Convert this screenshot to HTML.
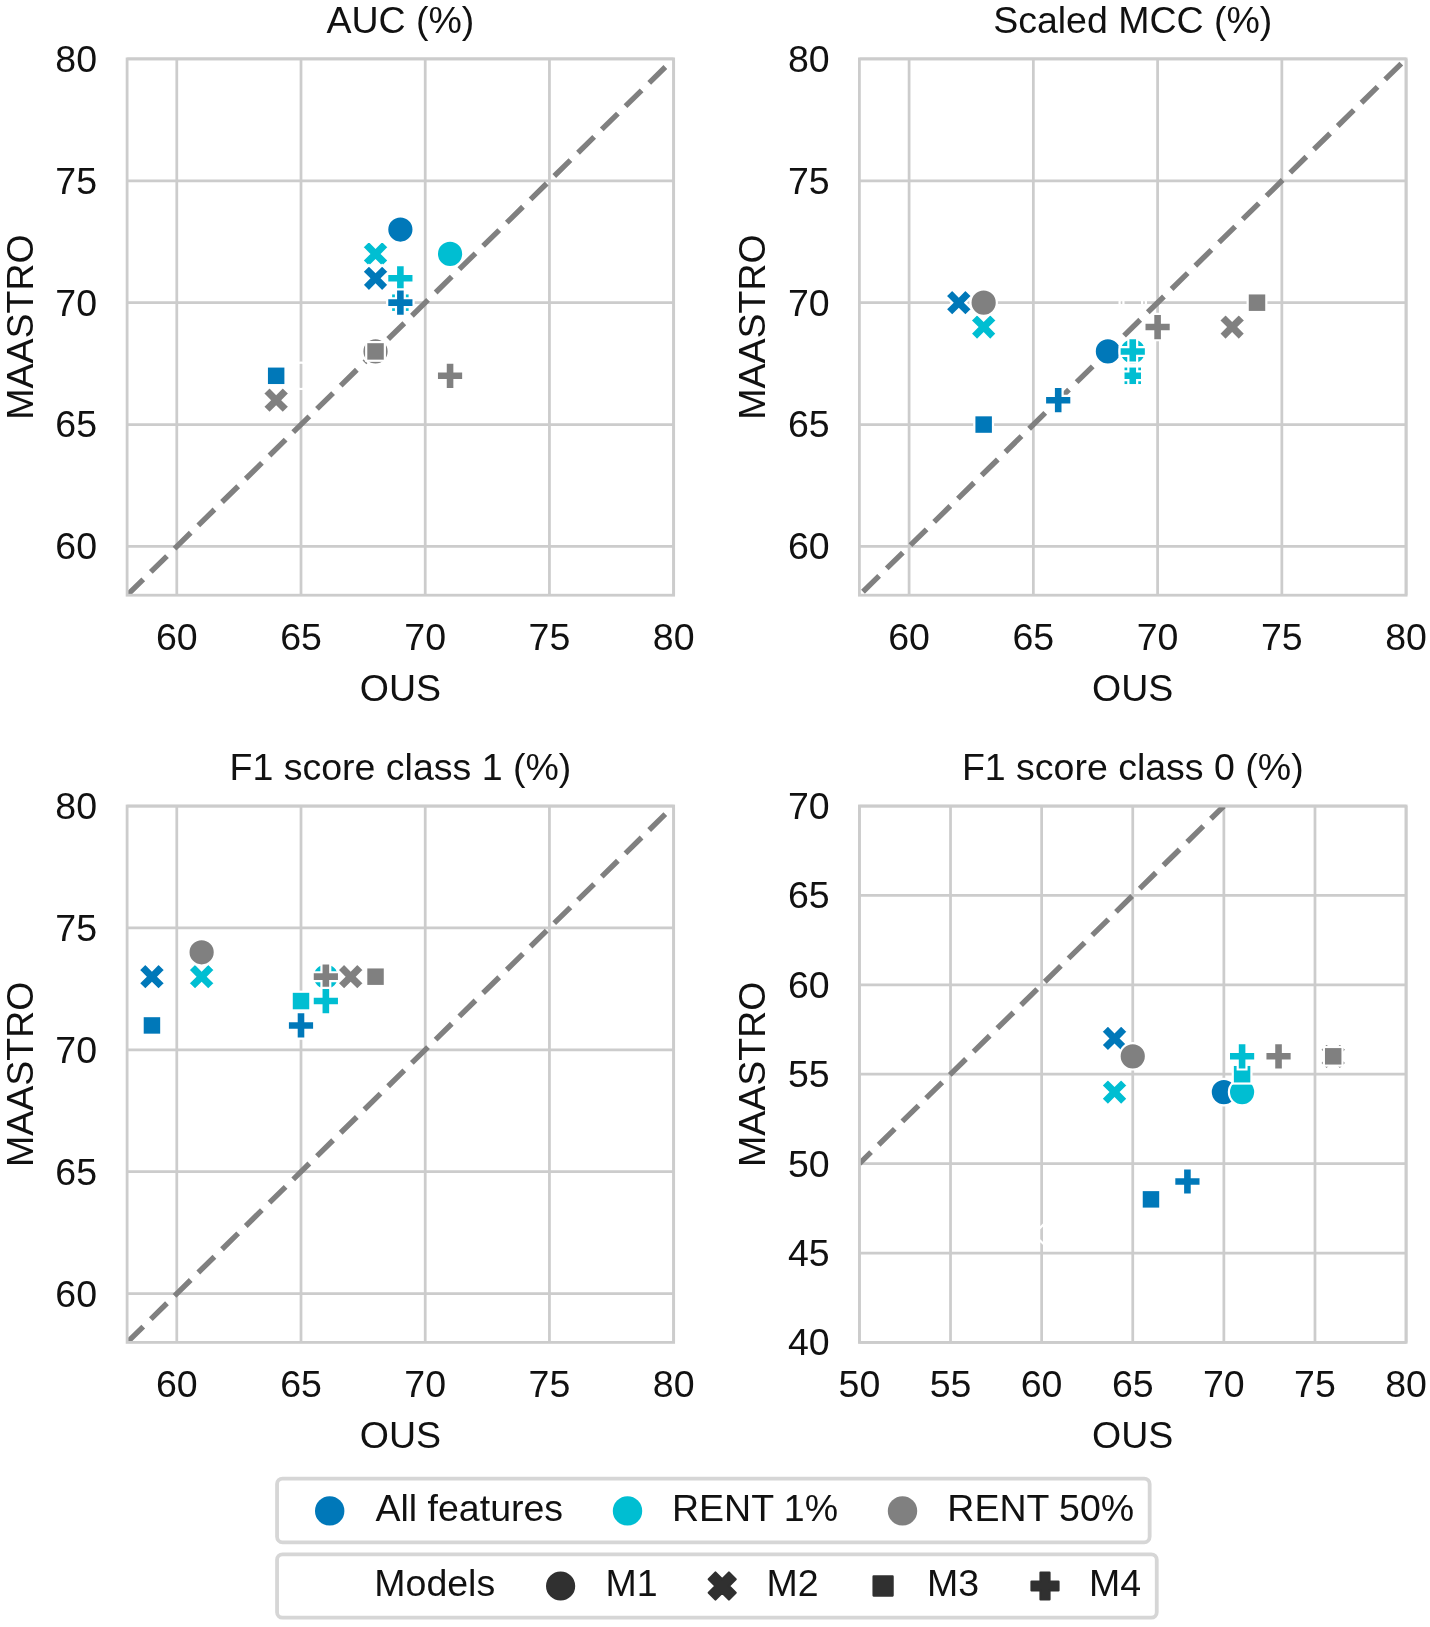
<!DOCTYPE html>
<html><head><meta charset="utf-8"><title>Chart</title><style>
html,body{margin:0;padding:0;background:#fff;overflow:hidden;}
svg{display:block;will-change:transform;}
text{font-family:"Liberation Sans",sans-serif;font-size:37.50px;fill:#111111;}
</style></head><body>
<svg width="1430" height="1627" viewBox="0 0 1430 1627">
<rect width="1430" height="1627" fill="#fff"/>
<clipPath id="c722"><rect x="127.10" y="58.90" width="546.55" height="536.30"/></clipPath>
<path d="M176.79,595.20 V58.90 M301.00,595.20 V58.90 M425.22,595.20 V58.90 M549.43,595.20 V58.90 M673.65,595.20 V58.90 M127.10,546.45 H673.65 M127.10,424.56 H673.65 M127.10,302.67 H673.65 M127.10,180.79 H673.65 M127.10,58.90 H673.65" stroke="#cccccc" stroke-width="2.75" fill="none"/>
<g clip-path="url(#c722)">
<line x1="127.10" y1="595.20" x2="673.65" y2="58.90" stroke="#808080" stroke-width="5.4" stroke-dasharray="22.6 10.65" stroke-dashoffset="0.00"/>
<circle cx="450.06" cy="253.92" r="13.20" fill="#00bed2" stroke="#fff" stroke-width="2.20" stroke-linejoin="miter"/>
<path d="M368.93,240.72 L375.53,247.32 L382.13,240.72 L388.73,247.32 L382.13,253.92 L388.73,260.52 L382.13,267.12 L375.53,260.52 L368.93,267.12 L362.33,260.52 L368.93,253.92 L362.33,247.32 Z" fill="#00bed2" stroke="#fff" stroke-width="2.20" stroke-linejoin="miter"/>
<path d="M395.98,265.10 L404.77,265.10 L404.77,273.90 L413.57,273.90 L413.57,282.70 L404.77,282.70 L404.77,291.50 L395.98,291.50 L395.98,282.70 L387.18,282.70 L387.18,273.90 L395.98,273.90 Z" fill="#00bed2" stroke="#fff" stroke-width="2.20" stroke-linejoin="miter"/>
<rect x="391.04" y="293.34" width="18.67" height="18.67" fill="#00bed2" stroke="#fff" stroke-width="2.20" stroke-linejoin="miter"/>
<circle cx="400.38" cy="229.54" r="13.20" fill="#0078b9" stroke="#fff" stroke-width="2.20" stroke-linejoin="miter"/>
<path d="M368.93,265.10 L375.53,271.70 L382.13,265.10 L388.73,271.70 L382.13,278.30 L388.73,284.90 L382.13,291.50 L375.53,284.90 L368.93,291.50 L362.33,284.90 L368.93,278.30 L362.33,271.70 Z" fill="#0078b9" stroke="#fff" stroke-width="2.20" stroke-linejoin="miter"/>
<rect x="266.83" y="366.47" width="18.67" height="18.67" fill="#0078b9" stroke="#fff" stroke-width="2.20" stroke-linejoin="miter"/>
<path d="M395.98,289.47 L404.77,289.47 L404.77,298.27 L413.57,298.27 L413.57,307.07 L404.77,307.07 L404.77,315.87 L395.98,315.87 L395.98,307.07 L387.18,307.07 L387.18,298.27 L395.98,298.27 Z" fill="#0078b9" stroke="#fff" stroke-width="2.20" stroke-linejoin="miter"/>
<circle cx="375.53" cy="351.43" r="13.20" fill="#808080" stroke="#fff" stroke-width="2.20" stroke-linejoin="miter"/>
<rect x="366.20" y="342.09" width="18.67" height="18.67" fill="#808080" stroke="#fff" stroke-width="2.20" stroke-linejoin="miter"/>
<path d="M269.56,386.98 L276.16,393.58 L282.76,386.98 L289.36,393.58 L282.76,400.18 L289.36,406.78 L282.76,413.38 L276.16,406.78 L269.56,413.38 L262.96,406.78 L269.56,400.18 L262.96,393.58 Z" fill="#808080" stroke="#fff" stroke-width="2.20" stroke-linejoin="miter"/>
<path d="M445.66,362.60 L454.46,362.60 L454.46,371.40 L463.26,371.40 L463.26,380.20 L454.46,380.20 L454.46,389.00 L445.66,389.00 L445.66,380.20 L436.86,380.20 L436.86,371.40 L445.66,371.40 Z" fill="#808080" stroke="#fff" stroke-width="2.20" stroke-linejoin="miter"/>
<circle cx="301.00" cy="375.80" r="13.20" fill="none" stroke="#fff" stroke-width="2.20" stroke-linejoin="miter"/>
</g>
<rect x="127.10" y="58.90" width="546.55" height="536.30" fill="none" stroke="#cccccc" stroke-width="2.80"/>
<text x="176.79" y="650.20" text-anchor="middle">60</text>
<text x="301.00" y="650.20" text-anchor="middle">65</text>
<text x="425.22" y="650.20" text-anchor="middle">70</text>
<text x="549.43" y="650.20" text-anchor="middle">75</text>
<text x="673.65" y="650.20" text-anchor="middle">80</text>
<text x="97.00" y="559.35" text-anchor="end">60</text>
<text x="97.00" y="437.46" text-anchor="end">65</text>
<text x="97.00" y="315.57" text-anchor="end">70</text>
<text x="97.00" y="193.69" text-anchor="end">75</text>
<text x="97.00" y="71.80" text-anchor="end">80</text>
<text x="400.38" y="701.20" text-anchor="middle">OUS</text>
<text x="400.38" y="33.10" text-anchor="middle">AUC (%)</text>
<text transform="translate(32.70,327.05) rotate(-90)" text-anchor="middle">MAASTRO</text>
<clipPath id="c1454"><rect x="859.40" y="58.90" width="546.70" height="536.30"/></clipPath>
<path d="M909.10,595.20 V58.90 M1033.35,595.20 V58.90 M1157.60,595.20 V58.90 M1281.85,595.20 V58.90 M1406.10,595.20 V58.90 M859.40,546.45 H1406.10 M859.40,424.56 H1406.10 M859.40,302.67 H1406.10 M859.40,180.79 H1406.10 M859.40,58.90 H1406.10" stroke="#cccccc" stroke-width="2.75" fill="none"/>
<g clip-path="url(#c1454)">
<line x1="859.40" y1="595.20" x2="1406.10" y2="58.90" stroke="#808080" stroke-width="5.4" stroke-dasharray="22.6 10.65" stroke-dashoffset="-5.00"/>
<circle cx="1107.90" cy="351.43" r="13.20" fill="#0078b9" stroke="#fff" stroke-width="2.20" stroke-linejoin="miter"/>
<path d="M952.20,289.47 L958.80,296.07 L965.40,289.47 L972.00,296.07 L965.40,302.67 L972.00,309.27 L965.40,315.87 L958.80,309.27 L952.20,315.87 L945.60,309.27 L952.20,302.67 L945.60,296.07 Z" fill="#0078b9" stroke="#fff" stroke-width="2.20" stroke-linejoin="miter"/>
<rect x="974.32" y="415.23" width="18.67" height="18.67" fill="#0078b9" stroke="#fff" stroke-width="2.20" stroke-linejoin="miter"/>
<path d="M1053.80,386.98 L1062.60,386.98 L1062.60,395.78 L1071.40,395.78 L1071.40,404.58 L1062.60,404.58 L1062.60,413.38 L1053.80,413.38 L1053.80,404.58 L1045.00,404.58 L1045.00,395.78 L1053.80,395.78 Z" fill="#0078b9" stroke="#fff" stroke-width="2.20" stroke-linejoin="miter"/>
<circle cx="1132.75" cy="351.43" r="13.20" fill="#00bed2" stroke="#fff" stroke-width="2.20" stroke-linejoin="miter"/>
<path d="M1128.35,338.23 L1137.15,338.23 L1137.15,347.03 L1145.95,347.03 L1145.95,355.83 L1137.15,355.83 L1137.15,364.63 L1128.35,364.63 L1128.35,355.83 L1119.55,355.83 L1119.55,347.03 L1128.35,347.03 Z" fill="#00bed2" stroke="#fff" stroke-width="2.20" stroke-linejoin="miter"/>
<path d="M977.05,313.85 L983.65,320.45 L990.25,313.85 L996.85,320.45 L990.25,327.05 L996.85,333.65 L990.25,340.25 L983.65,333.65 L977.05,340.25 L970.45,333.65 L977.05,327.05 L970.45,320.45 Z" fill="#00bed2" stroke="#fff" stroke-width="2.20" stroke-linejoin="miter"/>
<rect x="1123.42" y="366.47" width="18.67" height="18.67" fill="#00bed2" stroke="#fff" stroke-width="2.20" stroke-linejoin="miter"/>
<path d="M1128.35,362.60 L1137.15,362.60 L1137.15,371.40 L1145.95,371.40 L1145.95,380.20 L1137.15,380.20 L1137.15,389.00 L1128.35,389.00 L1128.35,380.20 L1119.55,380.20 L1119.55,371.40 L1128.35,371.40 Z" fill="none" stroke="#fff" stroke-width="2.20" stroke-linejoin="miter"/>
<circle cx="1132.75" cy="302.67" r="13.20" fill="none" stroke="#fff" stroke-width="2.20" stroke-linejoin="miter"/>
<rect x="1123.42" y="293.34" width="18.67" height="18.67" fill="none" stroke="#fff" stroke-width="2.20" stroke-linejoin="miter"/>
<circle cx="983.65" cy="302.67" r="13.20" fill="#808080" stroke="#fff" stroke-width="2.20" stroke-linejoin="miter"/>
<path d="M1225.55,313.85 L1232.15,320.45 L1238.75,313.85 L1245.35,320.45 L1238.75,327.05 L1245.35,333.65 L1238.75,340.25 L1232.15,333.65 L1225.55,340.25 L1218.95,333.65 L1225.55,327.05 L1218.95,320.45 Z" fill="#808080" stroke="#fff" stroke-width="2.20" stroke-linejoin="miter"/>
<rect x="1247.67" y="293.34" width="18.67" height="18.67" fill="#808080" stroke="#fff" stroke-width="2.20" stroke-linejoin="miter"/>
<path d="M1153.20,313.85 L1162.00,313.85 L1162.00,322.65 L1170.80,322.65 L1170.80,331.45 L1162.00,331.45 L1162.00,340.25 L1153.20,340.25 L1153.20,331.45 L1144.40,331.45 L1144.40,322.65 L1153.20,322.65 Z" fill="#808080" stroke="#fff" stroke-width="2.20" stroke-linejoin="miter"/>
</g>
<rect x="859.40" y="58.90" width="546.70" height="536.30" fill="none" stroke="#cccccc" stroke-width="2.80"/>
<text x="909.10" y="650.20" text-anchor="middle">60</text>
<text x="1033.35" y="650.20" text-anchor="middle">65</text>
<text x="1157.60" y="650.20" text-anchor="middle">70</text>
<text x="1281.85" y="650.20" text-anchor="middle">75</text>
<text x="1406.10" y="650.20" text-anchor="middle">80</text>
<text x="829.60" y="559.35" text-anchor="end">60</text>
<text x="829.60" y="437.46" text-anchor="end">65</text>
<text x="829.60" y="315.57" text-anchor="end">70</text>
<text x="829.60" y="193.69" text-anchor="end">75</text>
<text x="829.60" y="71.80" text-anchor="end">80</text>
<text x="1132.75" y="701.20" text-anchor="middle">OUS</text>
<text x="1132.75" y="33.10" text-anchor="middle">Scaled MCC (%)</text>
<text transform="translate(765.30,327.05) rotate(-90)" text-anchor="middle">MAASTRO</text>
<clipPath id="c1469"><rect x="127.10" y="806.00" width="546.55" height="536.40"/></clipPath>
<path d="M176.79,1342.40 V806.00 M301.00,1342.40 V806.00 M425.22,1342.40 V806.00 M549.43,1342.40 V806.00 M673.65,1342.40 V806.00 M127.10,1293.64 H673.65 M127.10,1171.73 H673.65 M127.10,1049.82 H673.65 M127.10,927.91 H673.65 M127.10,806.00 H673.65" stroke="#cccccc" stroke-width="2.75" fill="none"/>
<g clip-path="url(#c1469)">
<line x1="127.10" y1="1342.40" x2="673.65" y2="806.00" stroke="#808080" stroke-width="5.4" stroke-dasharray="22.6 10.65" stroke-dashoffset="0.00"/>
<path d="M145.34,963.47 L151.94,970.07 L158.54,963.47 L165.14,970.07 L158.54,976.67 L165.14,983.27 L158.54,989.87 L151.94,983.27 L145.34,989.87 L138.74,983.27 L145.34,976.67 L138.74,970.07 Z" fill="#0078b9" stroke="#fff" stroke-width="2.20" stroke-linejoin="miter"/>
<rect x="142.61" y="1016.10" width="18.67" height="18.67" fill="#0078b9" stroke="#fff" stroke-width="2.20" stroke-linejoin="miter"/>
<path d="M296.60,1012.24 L305.40,1012.24 L305.40,1021.04 L314.20,1021.04 L314.20,1029.84 L305.40,1029.84 L305.40,1038.64 L296.60,1038.64 L296.60,1029.84 L287.80,1029.84 L287.80,1021.04 L296.60,1021.04 Z" fill="#0078b9" stroke="#fff" stroke-width="2.20" stroke-linejoin="miter"/>
<path d="M195.03,963.47 L201.63,970.07 L208.23,963.47 L214.83,970.07 L208.23,976.67 L214.83,983.27 L208.23,989.87 L201.63,983.27 L195.03,989.87 L188.43,983.27 L195.03,976.67 L188.43,970.07 Z" fill="#00bed2" stroke="#fff" stroke-width="2.20" stroke-linejoin="miter"/>
<rect x="291.67" y="991.72" width="18.67" height="18.67" fill="#00bed2" stroke="#fff" stroke-width="2.20" stroke-linejoin="miter"/>
<circle cx="325.85" cy="976.67" r="13.20" fill="#00bed2" stroke="#fff" stroke-width="2.20" stroke-linejoin="miter"/>
<circle cx="201.63" cy="952.29" r="13.20" fill="#808080" stroke="#fff" stroke-width="2.20" stroke-linejoin="miter"/>
<path d="M321.45,963.47 L330.25,963.47 L330.25,972.27 L339.05,972.27 L339.05,981.07 L330.25,981.07 L330.25,989.87 L321.45,989.87 L321.45,981.07 L312.65,981.07 L312.65,972.27 L321.45,972.27 Z" fill="#808080" stroke="#fff" stroke-width="2.20" stroke-linejoin="miter"/>
<path d="M344.09,963.47 L350.69,970.07 L357.29,963.47 L363.89,970.07 L357.29,976.67 L363.89,983.27 L357.29,989.87 L350.69,983.27 L344.09,989.87 L337.49,983.27 L344.09,976.67 L337.49,970.07 Z" fill="#808080" stroke="#fff" stroke-width="2.20" stroke-linejoin="miter"/>
<rect x="366.20" y="967.34" width="18.67" height="18.67" fill="#808080" stroke="#fff" stroke-width="2.20" stroke-linejoin="miter"/>
<path d="M321.45,987.85 L330.25,987.85 L330.25,996.65 L339.05,996.65 L339.05,1005.45 L330.25,1005.45 L330.25,1014.25 L321.45,1014.25 L321.45,1005.45 L312.65,1005.45 L312.65,996.65 L321.45,996.65 Z" fill="#00bed2" stroke="#fff" stroke-width="2.20" stroke-linejoin="miter"/>
</g>
<rect x="127.10" y="806.00" width="546.55" height="536.40" fill="none" stroke="#cccccc" stroke-width="2.80"/>
<text x="176.79" y="1397.40" text-anchor="middle">60</text>
<text x="301.00" y="1397.40" text-anchor="middle">65</text>
<text x="425.22" y="1397.40" text-anchor="middle">70</text>
<text x="549.43" y="1397.40" text-anchor="middle">75</text>
<text x="673.65" y="1397.40" text-anchor="middle">80</text>
<text x="97.00" y="1306.54" text-anchor="end">60</text>
<text x="97.00" y="1184.63" text-anchor="end">65</text>
<text x="97.00" y="1062.72" text-anchor="end">70</text>
<text x="97.00" y="940.81" text-anchor="end">75</text>
<text x="97.00" y="818.90" text-anchor="end">80</text>
<text x="400.38" y="1448.40" text-anchor="middle">OUS</text>
<text x="400.38" y="780.30" text-anchor="middle">F1 score class 1 (%)</text>
<text transform="translate(32.70,1074.20) rotate(-90)" text-anchor="middle">MAASTRO</text>
<clipPath id="c2201"><rect x="859.40" y="806.00" width="546.70" height="536.40"/></clipPath>
<path d="M859.40,1342.40 V806.00 M950.52,1342.40 V806.00 M1041.63,1342.40 V806.00 M1132.75,1342.40 V806.00 M1223.87,1342.40 V806.00 M1314.98,1342.40 V806.00 M1406.10,1342.40 V806.00 M859.40,1342.40 H1406.10 M859.40,1253.00 H1406.10 M859.40,1163.60 H1406.10 M859.40,1074.20 H1406.10 M859.40,984.80 H1406.10 M859.40,895.40 H1406.10 M859.40,806.00 H1406.10" stroke="#cccccc" stroke-width="2.75" fill="none"/>
<g clip-path="url(#c2201)">
<line x1="859.40" y1="1163.60" x2="1223.87" y2="806.00" stroke="#808080" stroke-width="5.4" stroke-dasharray="22.6 10.65" stroke-dashoffset="6.30"/>
<path d="M1107.93,1025.24 L1114.53,1031.84 L1121.13,1025.24 L1127.73,1031.84 L1121.13,1038.44 L1127.73,1045.04 L1121.13,1051.64 L1114.53,1045.04 L1107.93,1051.64 L1101.33,1045.04 L1107.93,1038.44 L1101.33,1031.84 Z" fill="#0078b9" stroke="#fff" stroke-width="2.20" stroke-linejoin="miter"/>
<circle cx="1223.87" cy="1092.08" r="13.20" fill="#0078b9" stroke="#fff" stroke-width="2.20" stroke-linejoin="miter"/>
<rect x="1141.64" y="1190.03" width="18.67" height="18.67" fill="#0078b9" stroke="#fff" stroke-width="2.20" stroke-linejoin="miter"/>
<path d="M1183.02,1168.28 L1191.82,1168.28 L1191.82,1177.08 L1200.62,1177.08 L1200.62,1185.88 L1191.82,1185.88 L1191.82,1194.68 L1183.02,1194.68 L1183.02,1185.88 L1174.22,1185.88 L1174.22,1177.08 L1183.02,1177.08 Z" fill="#0078b9" stroke="#fff" stroke-width="2.20" stroke-linejoin="miter"/>
<path d="M1107.93,1078.88 L1114.53,1085.48 L1121.13,1078.88 L1127.73,1085.48 L1121.13,1092.08 L1127.73,1098.68 L1121.13,1105.28 L1114.53,1098.68 L1107.93,1105.28 L1101.33,1098.68 L1107.93,1092.08 L1101.33,1085.48 Z" fill="#00bed2" stroke="#fff" stroke-width="2.20" stroke-linejoin="miter"/>
<circle cx="1242.09" cy="1092.08" r="13.20" fill="#00bed2" stroke="#fff" stroke-width="2.20" stroke-linejoin="miter"/>
<rect x="1232.76" y="1064.87" width="18.67" height="18.67" fill="#00bed2" stroke="#fff" stroke-width="2.20" stroke-linejoin="miter"/>
<path d="M1237.69,1043.12 L1246.49,1043.12 L1246.49,1051.92 L1255.29,1051.92 L1255.29,1060.72 L1246.49,1060.72 L1246.49,1069.52 L1237.69,1069.52 L1237.69,1060.72 L1228.89,1060.72 L1228.89,1051.92 L1237.69,1051.92 Z" fill="#00bed2" stroke="#fff" stroke-width="2.20" stroke-linejoin="miter"/>
<circle cx="1132.75" cy="1056.32" r="13.20" fill="#808080" stroke="#fff" stroke-width="2.20" stroke-linejoin="miter"/>
<path d="M1326.61,1043.12 L1333.21,1049.72 L1339.81,1043.12 L1346.41,1049.72 L1339.81,1056.32 L1346.41,1062.92 L1339.81,1069.52 L1333.21,1062.92 L1326.61,1069.52 L1320.01,1062.92 L1326.61,1056.32 L1320.01,1049.72 Z" fill="#808080" stroke="#fff" stroke-width="2.20" stroke-linejoin="miter"/>
<rect x="1323.87" y="1046.99" width="18.67" height="18.67" fill="#808080" stroke="#fff" stroke-width="2.20" stroke-linejoin="miter"/>
<path d="M1274.14,1043.12 L1282.94,1043.12 L1282.94,1051.92 L1291.74,1051.92 L1291.74,1060.72 L1282.94,1060.72 L1282.94,1069.52 L1274.14,1069.52 L1274.14,1060.72 L1265.34,1060.72 L1265.34,1051.92 L1274.14,1051.92 Z" fill="#808080" stroke="#fff" stroke-width="2.20" stroke-linejoin="miter"/>
<path d="M1033.76,1221.03 L1040.36,1227.63 L1046.96,1221.03 L1053.56,1227.63 L1046.96,1234.23 L1053.56,1240.83 L1046.96,1247.43 L1040.36,1240.83 L1033.76,1247.43 L1027.16,1240.83 L1033.76,1234.23 L1027.16,1227.63 Z" fill="none" stroke="#fff" stroke-width="2.20" stroke-linejoin="miter"/>
</g>
<rect x="859.40" y="806.00" width="546.70" height="536.40" fill="none" stroke="#cccccc" stroke-width="2.80"/>
<text x="859.40" y="1397.40" text-anchor="middle">50</text>
<text x="950.52" y="1397.40" text-anchor="middle">55</text>
<text x="1041.63" y="1397.40" text-anchor="middle">60</text>
<text x="1132.75" y="1397.40" text-anchor="middle">65</text>
<text x="1223.87" y="1397.40" text-anchor="middle">70</text>
<text x="1314.98" y="1397.40" text-anchor="middle">75</text>
<text x="1406.10" y="1397.40" text-anchor="middle">80</text>
<text x="829.60" y="1355.30" text-anchor="end">40</text>
<text x="829.60" y="1265.90" text-anchor="end">45</text>
<text x="829.60" y="1176.50" text-anchor="end">50</text>
<text x="829.60" y="1087.10" text-anchor="end">55</text>
<text x="829.60" y="997.70" text-anchor="end">60</text>
<text x="829.60" y="908.30" text-anchor="end">65</text>
<text x="829.60" y="818.90" text-anchor="end">70</text>
<text x="1132.75" y="1448.40" text-anchor="middle">OUS</text>
<text x="1132.75" y="780.30" text-anchor="middle">F1 score class 0 (%)</text>
<text transform="translate(765.30,1074.20) rotate(-90)" text-anchor="middle">MAASTRO</text>
<rect x="277.05" y="1478.6" width="872.6" height="63.7" rx="5.5" ry="5.5" fill="#fff" stroke="#d6d6d6" stroke-width="3.8"/>
<rect x="277.05" y="1554.3" width="879.7" height="63.4" rx="5.5" ry="5.5" fill="#fff" stroke="#d6d6d6" stroke-width="3.8"/>
<circle cx="329.70" cy="1510.9" r="14.70" fill="#0078b9"/>
<circle cx="627.50" cy="1510.9" r="14.70" fill="#00bed2"/>
<circle cx="902.50" cy="1510.9" r="14.70" fill="#808080"/>
<text x="375.50" y="1520.9">All features</text>
<text x="672.00" y="1520.9">RENT 1%</text>
<text x="947.30" y="1520.9">RENT 50%</text>
<circle cx="560.60" cy="1586.00" r="13.50" fill="#303030" stroke="#303030" stroke-width="2.20" stroke-linejoin="round"/>
<path d="M715.45,1572.50 L722.20,1579.25 L728.95,1572.50 L735.70,1579.25 L728.95,1586.00 L735.70,1592.75 L728.95,1599.50 L722.20,1592.75 L715.45,1599.50 L708.70,1592.75 L715.45,1586.00 L708.70,1579.25 Z" fill="#303030" stroke="#303030" stroke-width="2.20" stroke-linejoin="round"/>
<rect x="873.55" y="1576.45" width="19.09" height="19.09" fill="#303030" stroke="#303030" stroke-width="2.20" stroke-linejoin="round"/>
<path d="M1040.50,1572.50 L1049.50,1572.50 L1049.50,1581.50 L1058.50,1581.50 L1058.50,1590.50 L1049.50,1590.50 L1049.50,1599.50 L1040.50,1599.50 L1040.50,1590.50 L1031.50,1590.50 L1031.50,1581.50 L1040.50,1581.50 Z" fill="#303030" stroke="#303030" stroke-width="2.20" stroke-linejoin="round"/>
<text x="374.30" y="1595.8">Models</text>
<text x="605.40" y="1595.8">M1</text>
<text x="766.60" y="1595.8">M2</text>
<text x="927.00" y="1595.8">M3</text>
<text x="1089.00" y="1595.8">M4</text>
</svg></body></html>
